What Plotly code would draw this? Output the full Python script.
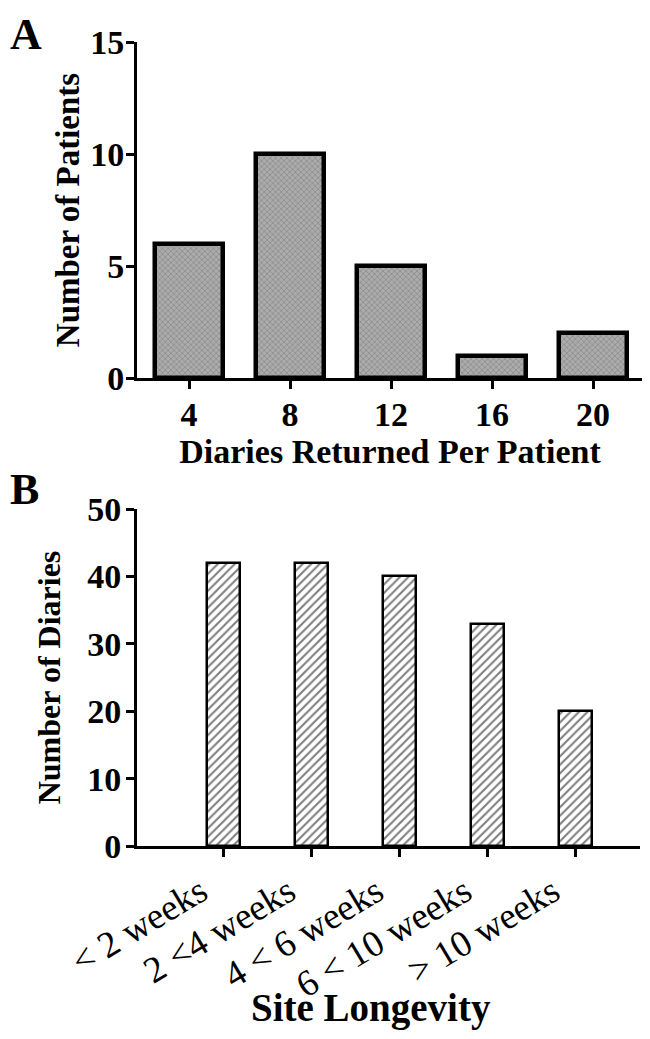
import plotly.graph_objects as go

# Panel A data
diaries_returned = [4, 8, 12, 16, 20]
patients = [6, 10, 5, 1, 2]

# Panel B data
longevity_labels = ["< 2 weeks", "2 <4 weeks", "4 < 6 weeks", "6 < 10 weeks", "> 10 weeks"]
diaries = [42, 42, 40, 33, 20]

FONT = "Liberation Serif"
H = 1039
L, R = 129, 15
W_plot = 650 - L - R
NBSP = "\u00a0"

fig = go.Figure()

fig.add_trace(go.Bar(
    x=diaries_returned, y=patients, width=2.7,
    marker=dict(color="#a0a0a0",
                line=dict(color="black", width=4.5),
                pattern=dict(shape="x", size=4, solidity=0.4,
                             fgcolor="#707070", bgcolor="#acacac")),
    xaxis="x", yaxis="y", showlegend=False,
))

fig.add_trace(go.Bar(
    x=list(range(len(longevity_labels))), y=diaries, width=0.375,
    marker=dict(color="white",
                line=dict(color="black", width=2.5),
                pattern=dict(shape="/", size=6, solidity=0.35,
                             fgcolor="black", bgcolor="white")),
    xaxis="x2", yaxis="y2", showlegend=False,
))

axis_common = dict(showline=True, linecolor="black", linewidth=3,
                   ticks="outside", ticklen=8, tickwidth=3, tickcolor="black",
                   showgrid=False, zeroline=False, automargin=False)

fig.update_layout(
    width=650, height=H,
    margin=dict(l=L, r=R, t=0, b=0),
    plot_bgcolor="white", paper_bgcolor="white",
    font=dict(family=FONT, color="black"),
    bargap=0,
    xaxis=dict(**axis_common, domain=[0, 1], anchor="y",
               range=[1.94, 21.98], tickvals=diaries_returned,
               ticktext=["<b>%d</b>" % v for v in diaries_returned],
               tickfont=dict(size=34, family=FONT), ticklabelstandoff=-4,
               title=dict(text="<b>Diaries Returned Per Patient</b>",
                          font=dict(size=34, family=FONT), standoff=4)),
    yaxis=dict(**axis_common, domain=[1 - 370 / H, 1 - 34 / H], anchor="x",
               range=[0, 15], tickvals=[0, 5, 10, 15],
               tickfont=dict(size=34, family=FONT), ticklabelstandoff=-5,
               ticktext=["<b>0</b>", "<b>5</b>", "<b>10</b>", "<b>15</b>"],
               title=dict(text="<b>Number of Patients</b>",
                          font=dict(size=33, family=FONT), standoff=1)),
    xaxis2=dict(**axis_common, domain=[0, 0.994], anchor="y2",
                range=[-0.98, 4.73], tickvals=list(range(len(longevity_labels))),
                ticktext=[t + NBSP * 2 for t in longevity_labels], tickangle=-31,
                tickfont=dict(size=37, family=FONT),
                ticklabelstandoff=-11, ticklabelshift=-7),
    yaxis2=dict(**axis_common, domain=[1 - 838 / H, 1 - 501 / H], anchor="x2",
                range=[0, 50], tickvals=[0, 10, 20, 30, 40, 50],
                ticktext=["<b>%d</b>" % v for v in [0, 10, 20, 30, 40, 50]],
                tickfont=dict(size=34, family=FONT), ticklabelstandoff=-2,
                title=dict(text="<b>Number of Diaries</b>",
                           font=dict(size=32, family=FONT), standoff=18)),
)

# Bottom axis title placed in pixel space
fig.add_annotation(text="<b>Site Longevity</b>",
                   x=(363 - L) / W_plot, y=1 - 1000 / H,
                   xref="paper", yref="paper", showarrow=False,
                   font=dict(size=39, family=FONT),
                   xanchor="center", yanchor="middle")

# Panel letters positioned in pixel space, converted to paper coordinates
for letter, px_x, px_y in [("A", 0, 0), ("B", 0, 455)]:
    fig.add_annotation(text="<b>%s</b>" % letter,
                       x=(px_x - L) / W_plot, y=1 - px_y / H,
                       xref="paper", yref="paper", showarrow=False,
                       font=dict(size=44, family=FONT),
                       xanchor="left", yanchor="top")

fig.write_html("out.html")
